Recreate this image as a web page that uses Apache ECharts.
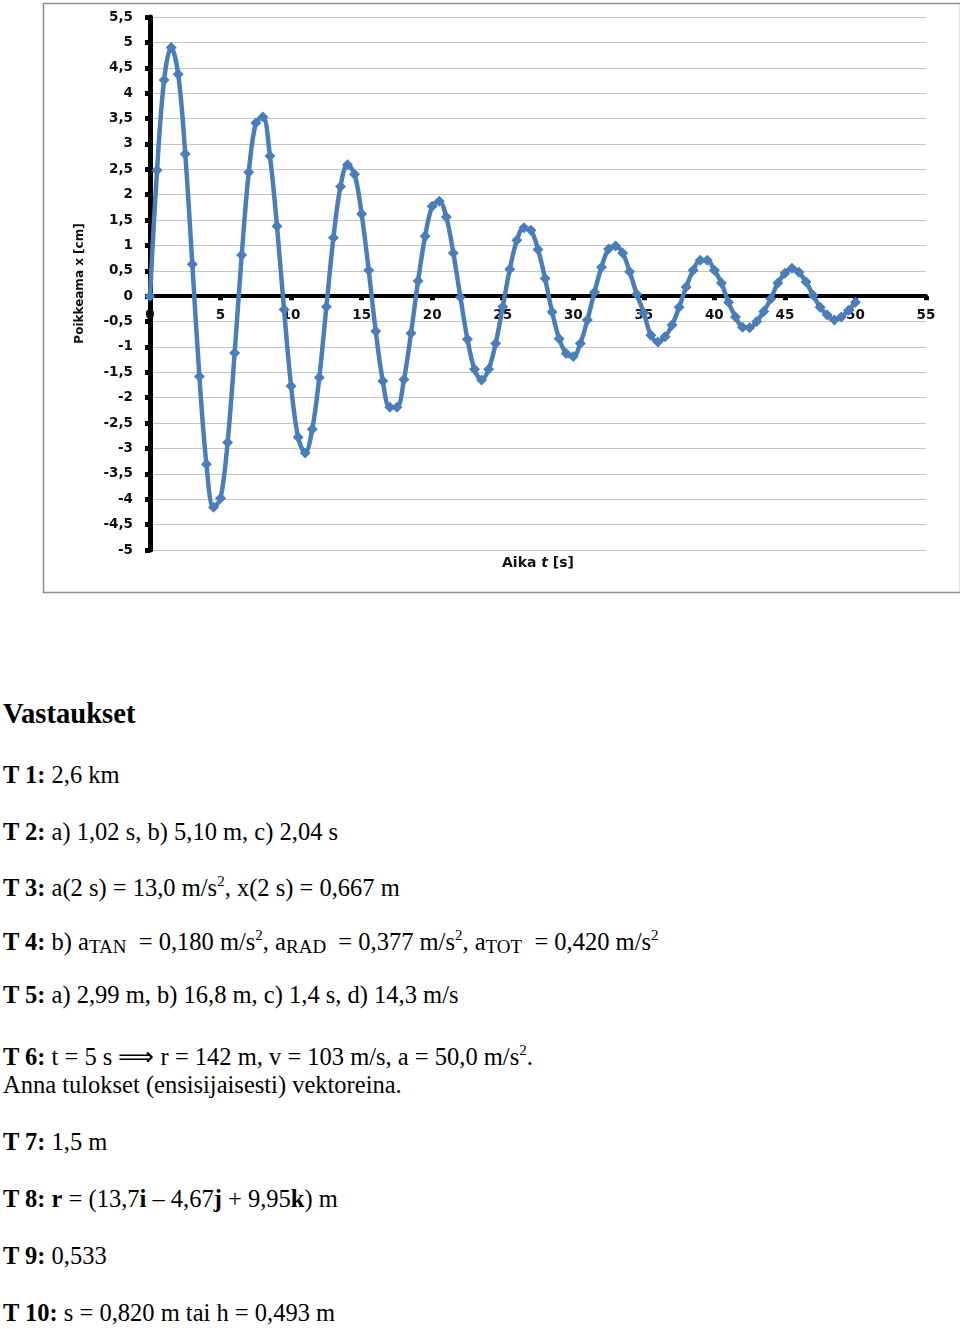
<!DOCTYPE html>
<html>
<head>
<meta charset="utf-8">
<script src="https://cdn.jsdelivr.net/npm/echarts@6/dist/echarts.min.js"></script>
<style>
  html, body { margin: 0; padding: 0; background: #fff; }
  body { width: 960px; height: 1329px; position: relative; overflow: hidden; }
  #chart { position: absolute; left: 0; top: 0; width: 960px; height: 600px; }
  .ln { position: absolute; left: 3px; font-family: "Liberation Serif", "Times New Roman", serif;
        font-size: 24.5px; line-height: 30px; white-space: nowrap; color: #000; }
  .ln b { font-weight: bold; }
  .h { font-size: 28.6px; line-height: 34px; font-weight: bold; }
  .sub { font-size: 19px; position: relative; top: 3px; }
  .sup { font-size: 15px; position: relative; top: -10px; }
</style>
</head>
<body>
<div id="chart"></div>

<div class="ln h" style="top:697px">Vastaukset</div>
<div class="ln" style="top:760px"><b>T 1:</b> 2,6 km</div>
<div class="ln" style="top:817px"><b>T 2:</b> a) 1,02 s, b) 5,10 m, c) 2,04 s</div>
<div class="ln" style="top:873px"><b>T 3:</b> a(2 s) = 13,0 m/s<span class="sup">2</span>, x(2 s) = 0,667 m</div>
<div class="ln" style="top:927px"><b>T 4:</b> b) a<span class="sub">TAN</span>&nbsp; = 0,180 m/s<span class="sup">2</span>, a<span class="sub">RAD</span>&nbsp; = 0,377 m/s<span class="sup">2</span>, a<span class="sub">TOT</span>&nbsp; = 0,420 m/s<span class="sup">2</span></div>
<div class="ln" style="top:980px"><b>T 5:</b> a) 2,99 m, b) 16,8 m, c) 1,4 s, d) 14,3 m/s</div>
<div class="ln" style="top:1042px"><b>T 6:</b> t = 5 s ⟹ r = 142 m, v = 103 m/s, a = 50,0 m/s<span class="sup">2</span>.</div>
<div class="ln" style="top:1070px">Anna tulokset (ensisijaisesti) vektoreina.</div>
<div class="ln" style="top:1127px"><b>T 7:</b> 1,5 m</div>
<div class="ln" style="top:1184px"><b>T 8:</b> <b>r</b> = (13,7<b>i</b> – 4,67<b>j</b> + 9,95<b>k</b>) m</div>
<div class="ln" style="top:1241px"><b>T 9:</b> 0,533</div>
<div class="ln" style="top:1298px"><b>T 10:</b> s = 0,820 m tai h = 0,493 m</div>

<script>
// Time values (s)
var times = [0,0.5,1,1.5,2,2.5,3,3.5,4,4.5,5,5.5,6,6.5,7,7.5,8,8.5,9,9.5,
  10,10.5,11,11.5,12,12.5,13,13.5,14,14.5,15,15.5,16,16.5,17,17.5,18,18.5,19,19.5,
  20,20.5,21,21.5,22,22.5,23,23.5,24,24.5,25,25.5,26,26.5,27,27.5,28,28.5,29,29.5,
  30,30.5,31,31.5,32,32.5,33,33.5,34,34.5,35,35.5,36,36.5,37,37.5,38,38.5,39,39.5,
  40,40.5,41,41.5,42,42.5,43,43.5,44,44.5,45,45.5,46,46.5,47,47.5,48,48.5,49,49.5,50];
// Displacement x (cm)
var displacement = [0,2.48,4.26,4.9,4.37,2.8,0.63,-1.58,-3.31,-4.16,
  -3.98,-2.88,-1.12,0.81,2.44,3.41,3.53,2.76,1.38,-0.26,
  -1.77,-2.78,-3.09,-2.62,-1.6,-0.21,1.15,2.16,2.59,2.4,
  1.62,0.51,-0.69,-1.67,-2.19,-2.19,-1.64,-0.73,0.3,1.18,
  1.77,1.87,1.56,0.85,-0.02,-0.85,-1.44,-1.65,-1.44,-0.93,
  -0.21,0.53,1.1,1.35,1.3,0.92,0.35,-0.31,-0.84,-1.13,
  -1.19,-0.93,-0.47,0.08,0.57,0.93,0.99,0.85,0.48,0.04,
  -0.33,-0.77,-0.9,-0.8,-0.57,-0.22,0.18,0.51,0.71,0.71,
  0.51,0.26,-0.12,-0.41,-0.61,-0.62,-0.5,-0.3,-0.05,0.26,
  0.45,0.55,0.47,0.28,0.02,-0.22,-0.37,-0.47,-0.41,-0.28,-0.12];
var xAxisTitle = 'Aika {i|t} [s]';
var yAxisTitle = 'Poikkeama x [cm]';

var points = times.map(function (t, i) { return [t, displacement[i]]; });
function comma(v) { return String(v).replace('.', ','); }

var chart = echarts.init(document.getElementById('chart'), null, { renderer: 'canvas' });
chart.setOption({
  animation: false,
  backgroundColor: '#fff',
  graphic: [{
    type: 'rect', left: 41, top: 1,
    shape: { width: 917, height: 589 },
    style: { fill: 'none', stroke: '#8e8e8e', lineWidth: 1.5 },
    silent: true, z: -1
  }, {
    type: 'text', x: 538, y: 563,
    style: {
      text: xAxisTitle,
      fill: '#111', font: 'bold 14px "DejaVu Sans"',
      textAlign: 'center', textVerticalAlign: 'middle',
      rich: { i: { fontStyle: 'italic', fontWeight: 'bold', fontFamily: 'DejaVu Sans', fontSize: 14, fill: '#111' } }
    },
    silent: true
  }],
  grid: { left: 150, top: 17, width: 776, height: 533, containLabel: false, outerBoundsMode: 'none' },
  xAxis: [{
    type: 'value', min: 0, max: 55, interval: 5,
    axisLine: { onZero: true, lineStyle: { color: '#000', width: 4 } },
    axisTick: { show: true, inside: false, length: 4, lineStyle: { color: '#000', width: 5 } },
    axisLabel: { show: false },
    splitLine: { show: false }
  }, {
    type: 'value', min: 0, max: 55, interval: 5, position: 'bottom', offset: -254,
    axisLine: { show: false, onZero: false },
    axisTick: { show: false },
    axisLabel: { margin: 12, color: '#111', fontFamily: 'DejaVu Sans', fontWeight: 'bold', fontSize: 13.5 },
    splitLine: { show: false }
  }],
  yAxis: {
    type: 'value', min: -5, max: 5.5, interval: 0.5,
    axisLine: { onZero: false, lineStyle: { color: '#000', width: 5 } },
    axisTick: { show: true, inside: false, length: 5, lineStyle: { color: '#000', width: 5 } },
    axisLabel: { margin: 17, color: '#111', fontFamily: 'DejaVu Sans', fontWeight: 'bold', fontSize: 13.5, formatter: comma },
    splitLine: { show: true, lineStyle: { color: '#c4c4c4', width: 1.2 } },
    name: yAxisTitle, nameLocation: 'middle', nameGap: 64, nameRotate: 90,
    nameTextStyle: { color: '#111', fontFamily: 'DejaVu Sans', fontWeight: 'bold', fontSize: 12 }
  },
  series: [{
    type: 'line',
    xAxisIndex: 0,
    data: points,
    smooth: 0.35,
    symbol: 'diamond',
    symbolSize: 11,
    showAllSymbol: true,
    lineStyle: { color: '#4a7ebb', width: 4.5 },
    itemStyle: { color: '#4a7ebb' },
    z: 3
  }]
});
</script>
</body>
</html>
